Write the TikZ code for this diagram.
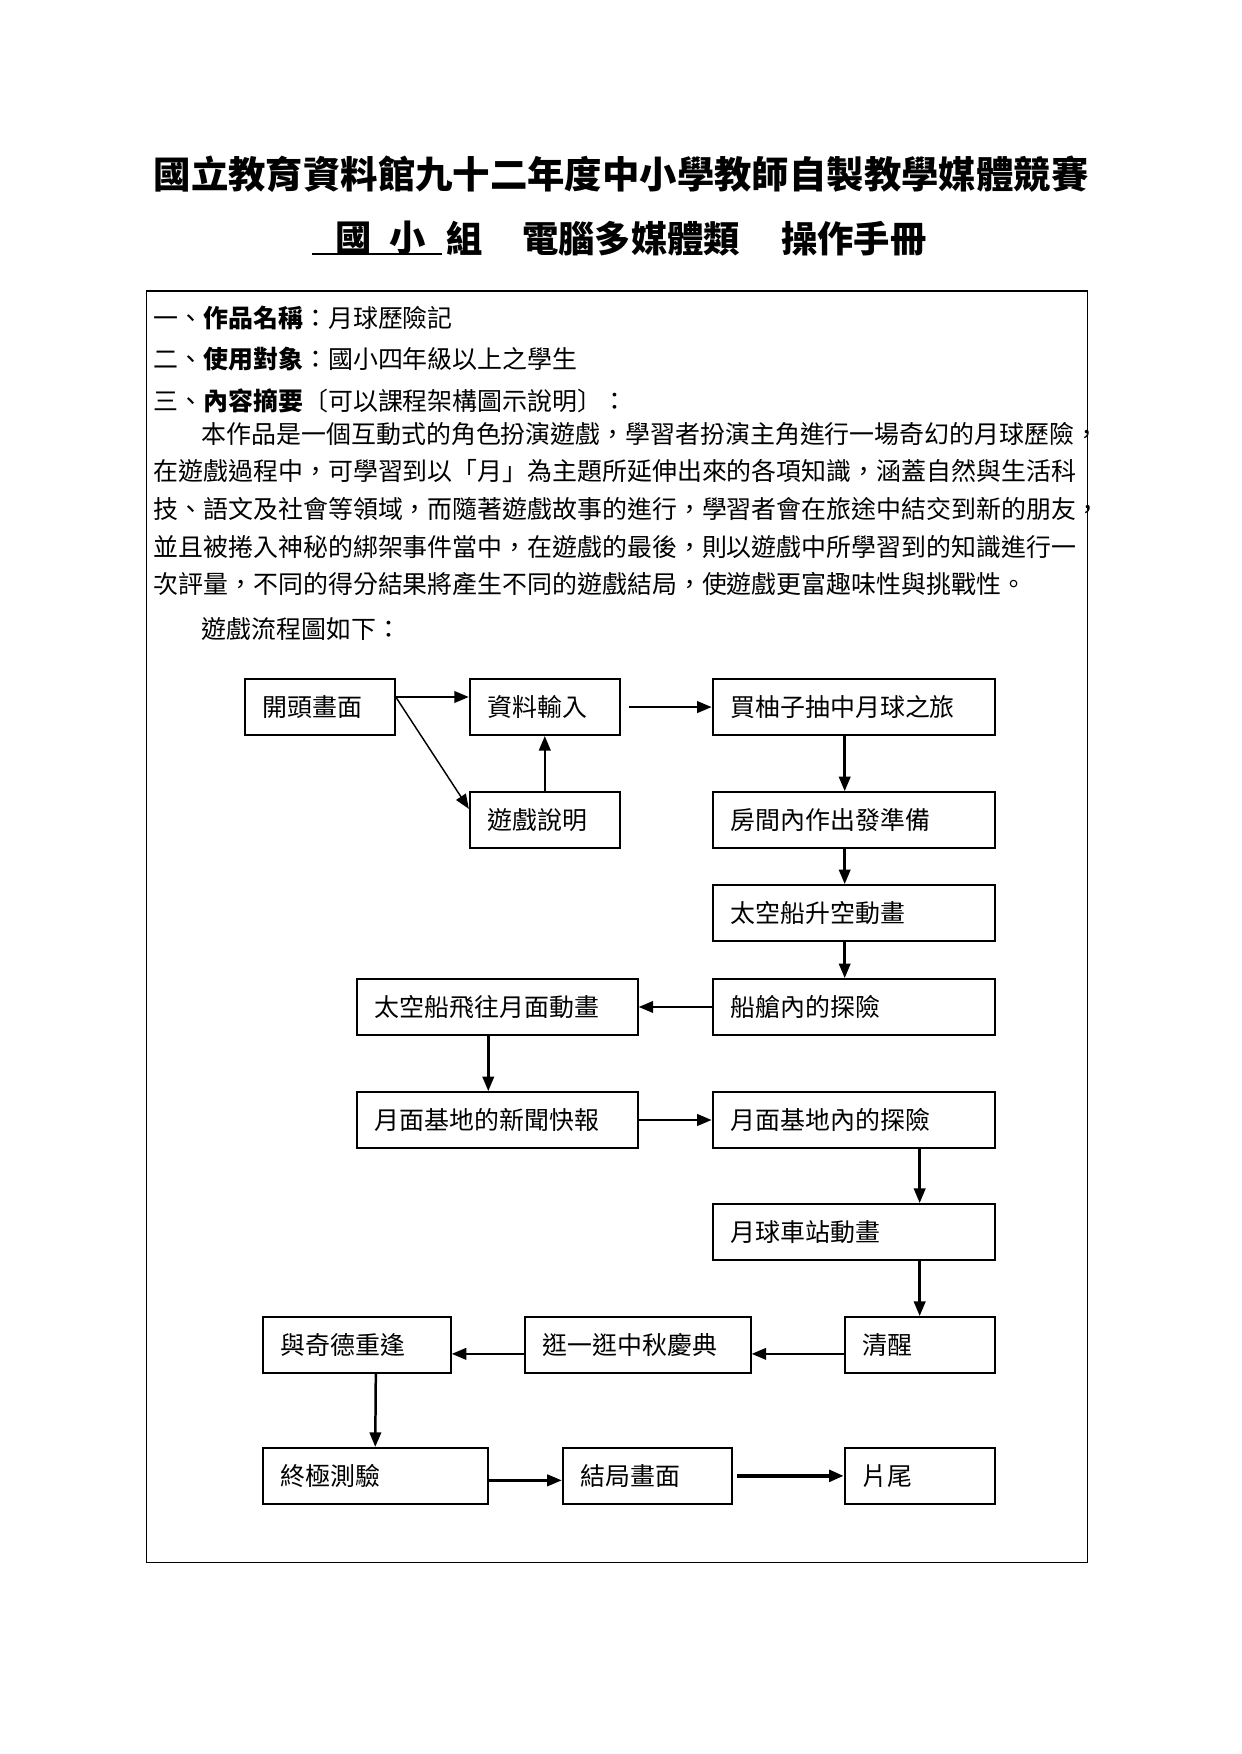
\documentclass[tikz,border=0pt]{standalone}
\usepackage{fontspec}
\setmainfont{Noto Sans CJK TC}
\usetikzlibrary{arrows.meta}
\newlength{\dunit}\setlength{\dunit}{0.18936mm}

\begin{document}
\begin{tikzpicture}[x=0.18936mm, y=-0.18936mm,
   fbox/.style={draw, line width=0.9pt, anchor=north west, inner xsep=16\dunit,
     inner ysep=0pt, minimum height=50\dunit, align=left,
     font=\fontsize{12}{14}\selectfont},
   txt/.style={anchor=west, inner sep=0pt, font=\fontsize{12}{14}\selectfont},
   ttl/.style={inner sep=0pt, font=\fontsize{17.5}{18}\bfseries\selectfont},
   arr/.style={line width=1.2pt, -{Triangle[length=7pt,width=5.5pt]}}]
\useasboundingbox (0,0) rectangle (1109,1567.4);
% heading
\node[ttl, font=\fontsize{18}{18}\bfseries\selectfont] (title) at (555,156)
  {國立教育資料館九十二年度中小學教師自製教學媒體競賽};
\node[ttl] (guo) at (316,213) {國};
\node[ttl] (xiao) at (364,213) {小};
\node[ttl] (zu) at (415,213) {組};
\node[ttl] (dian) at (564,213) {電腦多媒體類};
\node[ttl] (cao) at (763,213) {操作手冊};
\draw[line width=1.4pt] (279,227) -- (395,227);
% frame and text
\draw[line width=0.6pt] (131,260) rectangle (972,1396);
\node[txt] (t1) at (137,284) {一、\textbf{作品名稱}：月球歷險記};
\node[txt] (t2) at (137,321) {二、\textbf{使用對象}：國小四年級以上之學生};
\node[txt] (t3) at (137,358) {三、\textbf{內容摘要}〔可以課程架構圖示說明〕：};
\node[txt] (p1) at (180,388) {本作品是一個互動式的角色扮演遊戲，學習者扮演主角進行一場奇幻的月球歷險，};
\node[txt] (p2) at (137,421) {在遊戲過程中，可學習到以「月」為主題所延伸出來的各項知識，涵蓋自然與生活科};
\node[txt] (p3) at (137,455) {技、語文及社會等領域，而隨著遊戲故事的進行，學習者會在旅途中結交到新的朋友，};
\node[txt] (p4) at (137,489) {並且被捲入神秘的綁架事件當中，在遊戲的最後，則以遊戲中所學習到的知識進行一};
\node[txt] (p5) at (137,522) {次評量，不同的得分結果將產生不同的遊戲結局，使遊戲更富趣味性與挑戰性。};
\node[txt] (p6) at (180,562) {遊戲流程圖如下：};
% flow chart
\node[fbox, text width=102\dunit] (kaitou) at (218,606) {開頭畫面};
\node[fbox, text width=102\dunit] (ziliao) at (419,606) {資料輸入};
\node[fbox, text width=220\dunit] (maiyou) at (636,606) {買柚子抽中月球之旅};
\node[fbox, text width=102\dunit] (shuoming) at (419,707) {遊戲說明};
\node[fbox, text width=220\dunit] (fangjian) at (636,707) {房間內作出發準備};
\node[fbox, text width=220\dunit] (shengkong) at (636,790) {太空船升空動畫};
\node[fbox, text width=220\dunit] (chuancang) at (636,874) {船艙內的探險};
\node[fbox, text width=219\dunit] (feiwang) at (318,874) {太空船飛往月面動畫};
\node[fbox, text width=219\dunit] (xinwen) at (318,975) {月面基地的新聞快報};
\node[fbox, text width=220\dunit] (jidi) at (636,975) {月面基地內的探險};
\node[fbox, text width=220\dunit] (chezhan) at (636,1075) {月球車站動畫};
\node[fbox, text width=102\dunit] (qingxing) at (754,1176) {清醒};
\node[fbox, text width=170\dunit] (zhongqiu) at (468,1176) {逛一逛中秋慶典};
\node[fbox, text width=136\dunit] (qide) at (234,1176) {與奇德重逢};
\node[fbox, text width=169\dunit] (ceyan) at (234,1293) {終極測驗};
\node[fbox, text width=119\dunit] (jieju) at (502,1293) {結局畫面};
\node[fbox, text width=102\dunit] (pianwei) at (754,1293) {片尾};

\draw[arr] ([yshift=9\dunit]kaitou.east) -- ([yshift=9\dunit]ziliao.west);
\draw[arr, line width=0.7pt] ([yshift=9\dunit]kaitou.east) -- ([yshift=10\dunit]shuoming.west);
\draw[arr] (shuoming) -- (ziliao);
\draw[arr] ([xshift=7\dunit]ziliao.east) -- (maiyou.west);
\draw[arr] ([xshift=-8\dunit]maiyou.south) -- ([xshift=-8\dunit]fangjian.north);
\draw[arr] ([xshift=-8\dunit]fangjian.south) -- ([xshift=-8\dunit]shengkong.north);
\draw[arr] ([xshift=-8\dunit]shengkong.south) -- ([xshift=-8\dunit]chuancang.north);
\draw[arr] (chuancang) -- (feiwang);
\draw[arr] ([xshift=-8\dunit]feiwang.south) -- ([xshift=-8\dunit]xinwen.north);
\draw[arr] (xinwen) -- (jidi);
\draw[arr] ([xshift=59\dunit]jidi.south) -- ([xshift=59\dunit]chezhan.north);
\draw[arr] ([xshift=59\dunit]chezhan.south) -- (qingxing.north);
\draw[arr] ([yshift=-8\dunit]qingxing.west) -- ([yshift=-8\dunit]zhongqiu.east);
\draw[arr] ([yshift=-8\dunit]zhongqiu.west) -- ([yshift=-8\dunit]qide.east);
\draw[arr] ([xshift=17\dunit]qide.south) -- (ceyan.north);
\draw[arr] ([yshift=-4\dunit]ceyan.east) -- ([yshift=-4\dunit]jieju.west);
\draw[arr, line width=2pt] ([xshift=4\dunit]jieju.east) -- (pianwei.west);
\end{tikzpicture}
\end{document}
